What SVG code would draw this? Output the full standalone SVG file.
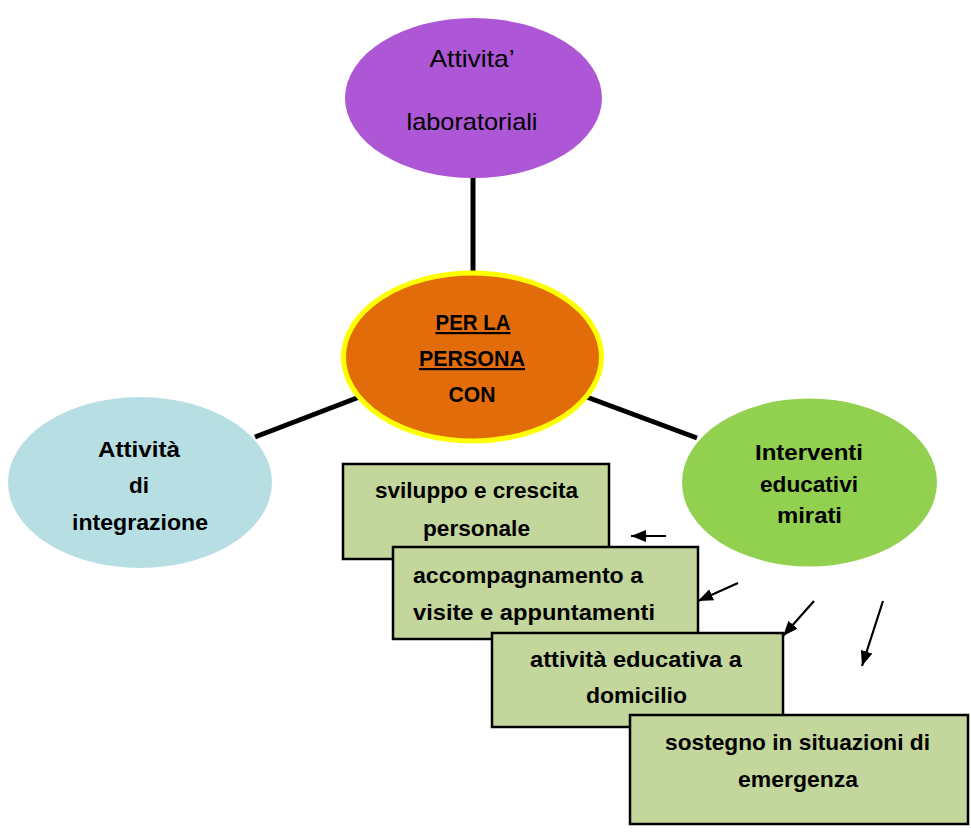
<svg xmlns="http://www.w3.org/2000/svg" width="971" height="833" viewBox="0 0 971 833">
<defs>
<marker id="ah" viewBox="0 0 15 12" refX="15" refY="6" markerWidth="15" markerHeight="12" markerUnits="userSpaceOnUse" orient="auto"><path d="M0,0 L15,6 L0,12 z" fill="#000"/></marker>
</defs>
<style>
.t{font-family:"Liberation Sans",Arial,sans-serif;font-size:22px;font-weight:bold;fill:#000;text-anchor:middle}
.n{font-family:"Liberation Sans",Arial,sans-serif;font-size:24px;font-weight:normal;fill:#000;text-anchor:middle}
.box{fill:#c3d69b;stroke:#000;stroke-width:2.5}
.link{stroke:#000;stroke-width:5;fill:none}
.arr{stroke:#000;stroke-width:2.2;fill:none;marker-end:url(#ah)}
</style>
<rect width="971" height="833" fill="#fff"/>
<g id="links">
<line class="link" x1="473" y1="175" x2="473" y2="275"/>
<line class="link" x1="255" y1="437" x2="362" y2="396"/>
<line class="link" x1="584" y1="396" x2="697" y2="438"/>
</g>
<g id="node-lab">
<ellipse cx="473.5" cy="98" rx="128.5" ry="80" fill="#ad56d6"/>
<text class="n" x="472" y="67" textLength="85" lengthAdjust="spacingAndGlyphs">Attivita’</text>
<text class="n" x="472" y="130" textLength="131" lengthAdjust="spacingAndGlyphs">laboratoriali</text>
</g>
<g id="node-center">
<ellipse cx="472.5" cy="357" rx="129" ry="84" fill="#e36c0a" stroke="#ffff00" stroke-width="5"/>
<text class="t" x="473" y="330" text-decoration="underline" textLength="75" lengthAdjust="spacingAndGlyphs">PER LA</text>
<text class="t" x="472" y="366" text-decoration="underline" textLength="106" lengthAdjust="spacingAndGlyphs">PERSONA</text>
<text class="t" x="472" y="402" textLength="47" lengthAdjust="spacingAndGlyphs">CON</text>
</g>
<g id="node-int">
<ellipse cx="140" cy="482.5" rx="132" ry="85.5" fill="#b7dfe3"/>
<text class="t" x="139" y="457" textLength="82" lengthAdjust="spacingAndGlyphs">Attività</text>
<text class="t" x="139" y="493" textLength="20" lengthAdjust="spacingAndGlyphs">di</text>
<text class="t" x="140" y="530" textLength="136" lengthAdjust="spacingAndGlyphs">integrazione</text>
</g>
<g id="node-interv">
<ellipse cx="809.5" cy="482.5" rx="127.5" ry="84" fill="#92d050"/>
<text class="t" x="809" y="460" textLength="108" lengthAdjust="spacingAndGlyphs">Interventi</text>
<text class="t" x="809" y="492" textLength="98" lengthAdjust="spacingAndGlyphs">educativi</text>
<text class="t" x="809.5" y="523" textLength="65" lengthAdjust="spacingAndGlyphs">mirati</text>
</g>
<g id="box1">
<rect class="box" x="343" y="464" width="266" height="95"/>
<text class="t" x="476.5" y="498" textLength="203" lengthAdjust="spacingAndGlyphs">sviluppo e crescita</text>
<text class="t" x="476.5" y="536" textLength="107" lengthAdjust="spacingAndGlyphs">personale</text>
</g>
<g id="box2">
<rect class="box" x="393" y="547" width="305" height="92"/>
<text class="t" x="528" y="583" textLength="230" lengthAdjust="spacingAndGlyphs">accompagnamento a</text>
<text class="t" x="534" y="620" textLength="242" lengthAdjust="spacingAndGlyphs">visite e appuntamenti</text>
</g>
<g id="box3">
<rect class="box" x="492" y="633" width="291" height="94"/>
<text class="t" x="636" y="667" textLength="212" lengthAdjust="spacingAndGlyphs">attività educativa a</text>
<text class="t" x="636.5" y="703" textLength="101" lengthAdjust="spacingAndGlyphs">domicilio</text>
</g>
<g id="box4">
<rect class="box" x="630" y="715" width="338" height="109"/>
<text class="t" x="797.5" y="750" textLength="265" lengthAdjust="spacingAndGlyphs">sostegno in situazioni di</text>
<text class="t" x="798" y="787" textLength="120" lengthAdjust="spacingAndGlyphs">emergenza</text>
</g>
<g id="arrows">
<line class="arr" x1="666" y1="536" x2="631" y2="536"/>
<line class="arr" x1="738" y1="583" x2="698" y2="601"/>
<line class="arr" x1="814" y1="601" x2="783" y2="636"/>
<line class="arr" x1="883" y1="601" x2="862" y2="666"/>
</g>
</svg>
